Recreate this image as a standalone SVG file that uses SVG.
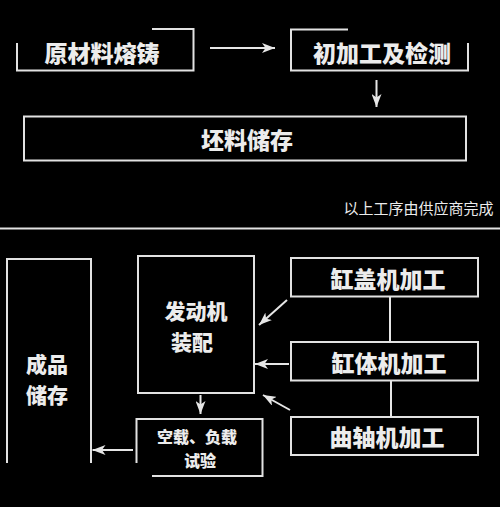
<svg xmlns="http://www.w3.org/2000/svg" width="500" height="507" viewBox="0 0 500 507">
<defs>
<marker id="ah" markerUnits="userSpaceOnUse" markerWidth="13" markerHeight="10" refX="13" refY="5" orient="auto">
<path d="M0,0 L13,5 L0,10 L3.5,5 z" fill="#e6e6e6"/>
</marker>
</defs>
<style>
.ln{fill:none;stroke:#e2e2e2;stroke-width:2}
.t{font-family:"Noto Sans CJK SC","Noto Sans",sans-serif;font-weight:900;fill:#ececec;text-anchor:middle;dominant-baseline:central}
.s{font-family:"Noto Sans CJK SC","Noto Sans",sans-serif;font-weight:400;fill:#ececec;font-size:15px;text-anchor:middle;dominant-baseline:central}
.c{fill:none;stroke:#e6e6e6;stroke-width:2}
</style>
<rect width="500" height="507" fill="#000"/>
<g id="n1">
<path class="ln" d="M17,43 V70.5 H193.5 V29 H152"/>
<text class="t" x="102" y="52" font-size="23">原材料熔铸</text>
</g>
<g id="n2">
<path class="ln" d="M348,29.5 H291 V70.5 H468 V43"/>
<text class="t" x="382" y="52" font-size="23">初加工及检测</text>
</g>
<g id="n3">
<rect class="ln" x="24" y="116.5" width="442" height="44"/>
<text class="t" x="247" y="139" font-size="23">坯料储存</text>
</g>
<g id="note">
<text class="s" x="418.5" y="207">以上工序由供应商完成</text>
</g>
<g id="sep">
<line x1="0" y1="228.5" x2="500" y2="228.5" stroke="#e2e2e2" stroke-width="2"/>
</g>
<g id="n4">
<path class="ln" d="M7,463 V259 H91 V463"/>
<text class="t" x="47" y="363" font-size="21">成品</text>
<text class="t" x="47" y="394" font-size="21">储存</text>
</g>
<g id="n5">
<rect class="ln" x="138" y="256" width="116" height="137"/>
<text class="t" x="196" y="309.5" font-size="21">发动机</text>
<text class="t" x="192" y="340.5" font-size="21">装配</text>
</g>
<g id="n6">
<path class="ln" d="M136.5,463 V419 H262.5 V476 H152"/>
<text class="t" x="197" y="435.5" font-size="16">空载、负载</text>
<text class="t" x="200" y="460" font-size="16">试验</text>
</g>
<g id="n7">
<rect class="ln" x="291" y="258" width="187" height="38.5"/>
<text class="t" x="388" y="278" font-size="23">缸盖机加工</text>
</g>
<g id="n8">
<rect class="ln" x="291" y="342" width="187" height="38.5"/>
<text class="t" x="389" y="362" font-size="23">缸体机加工</text>
</g>
<g id="n9">
<rect class="ln" x="291" y="417" width="187" height="38"/>
<text class="t" x="387" y="436" font-size="23">曲轴机加工</text>
</g>
<g id="connectors">
<line class="c" x1="210" y1="48" x2="275" y2="48" marker-end="url(#ah)"/>
<line class="c" x1="376.5" y1="80" x2="376.5" y2="107" marker-end="url(#ah)"/>
<line class="c" x1="390" y1="296.5" x2="390" y2="342"/>
<line class="c" x1="391" y1="380.5" x2="391" y2="417"/>
<line class="c" x1="287" y1="300" x2="259" y2="325" marker-end="url(#ah)"/>
<line class="c" x1="289" y1="364" x2="255" y2="364" marker-end="url(#ah)"/>
<line class="c" x1="290" y1="410" x2="263" y2="395" marker-end="url(#ah)"/>
<line class="c" x1="200.5" y1="395" x2="200.5" y2="414" marker-end="url(#ah)"/>
<line class="c" x1="133" y1="450" x2="92.5" y2="450" marker-end="url(#ah)"/>
</g>
</svg>
